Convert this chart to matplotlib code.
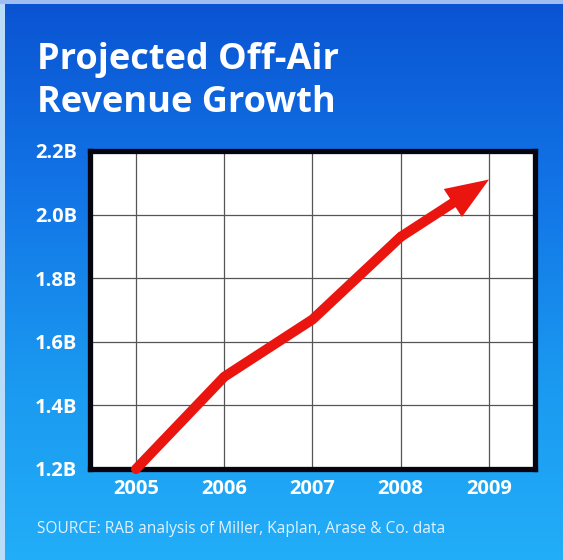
#!/usr/bin/env python3
# -*- coding: utf-8 -*-

"""Projected off-air revenue growth, redrawn as a line chart with an arrow head."""

import numpy as np
import matplotlib
matplotlib.use("Agg")
import matplotlib.pyplot as plt
from matplotlib.colors import LinearSegmentedColormap

years = [2005, 2006, 2007, 2008, 2009]
revenue = [1.20, 1.49, 1.67, 1.93, 2.11]  # billions
yticks = [1.2, 1.4, 1.6, 1.8, 2.0, 2.2]
ytick_labels = ["1.2B", "1.4B", "1.6B", "1.8B", "2.0B", "2.2B"]
title_lines = ["Projected Off-Air", "Revenue Growth"]
source = "SOURCE: RAB analysis of Miller, Kaplan, Arase & Co. data"

RED = "#ea150f"
FONT = "Open Sans"

fig = plt.figure(figsize=(5.63, 5.60), dpi=100)

# blue background, darker at the top
bg = fig.add_axes([0, 0, 1, 1], zorder=-10)
bg.axis("off")
cmap = LinearSegmentedColormap.from_list(
    "bg", ["#0a53d2", "#1274e6", "#1a98f0", "#22aef8"])
grad = np.linspace(0, 1, 256).reshape(-1, 1)
bg.imshow(grad, aspect="auto", cmap=cmap, extent=[0, 1, 0, 1],
          origin="upper")
bg.set_xlim(0, 1)
bg.set_ylim(0, 1)
# pale scan edges
bg.axvspan(0, 0.008, color="#b9dcf8", lw=0)
bg.axhspan(0.993, 1, color="#9fbdf0", lw=0)

ax = fig.add_axes([0.159, 0.1625, 0.791, 0.568])
ax.set_facecolor("white")
ax.set_xlim(2004.473, 2009.52)
ax.set_ylim(1.2, 2.2)
ax.set_xticks(years)
ax.set_xticklabels([str(y) for y in years])
ax.set_yticks(yticks)
ax.set_yticklabels(ytick_labels)
ax.tick_params(length=0, pad=9, colors="white")
for lab in ax.get_xticklabels() + ax.get_yticklabels():
    lab.set_fontfamily(FONT)
    lab.set_fontweight("bold")
    lab.set_fontsize(14.5)
ax.tick_params(axis="x", pad=7)
ax.grid(color="#555555", linewidth=0.9)
ax.set_axisbelow(True)
for sp in ax.spines.values():
    sp.set_linewidth(3.8)
    sp.set_color("#050510")

# shaft up to 2008, then the arrow to 2009
ax.plot(years[:4], revenue[:4], color=RED, lw=7.2,
        solid_joinstyle="round", solid_capstyle="round", zorder=5,
        clip_on=False)
ax.annotate("", xy=(years[4], revenue[4]), xytext=(years[3], revenue[3]),
            arrowprops=dict(arrowstyle="simple,head_length=31,head_width=24,tail_width=7.2",
                            mutation_scale=1, color=RED, lw=0,
                            shrinkA=0, shrinkB=0),
            zorder=6)

fig.text(37 / 563, 1 - 69 / 560, title_lines[0], color="white",
         fontfamily=FONT, fontweight="bold", fontsize=26, va="baseline")
fig.text(37 / 563, 1 - 112 / 560, title_lines[1], color="white",
         fontfamily=FONT, fontweight="bold", fontsize=26, va="baseline")
fig.text(37 / 563, 1 - 533 / 560, source, color="#e2f1ff",
         fontfamily=FONT, fontsize=11.2, va="baseline")

fig.savefig("out.png", dpi=100)
